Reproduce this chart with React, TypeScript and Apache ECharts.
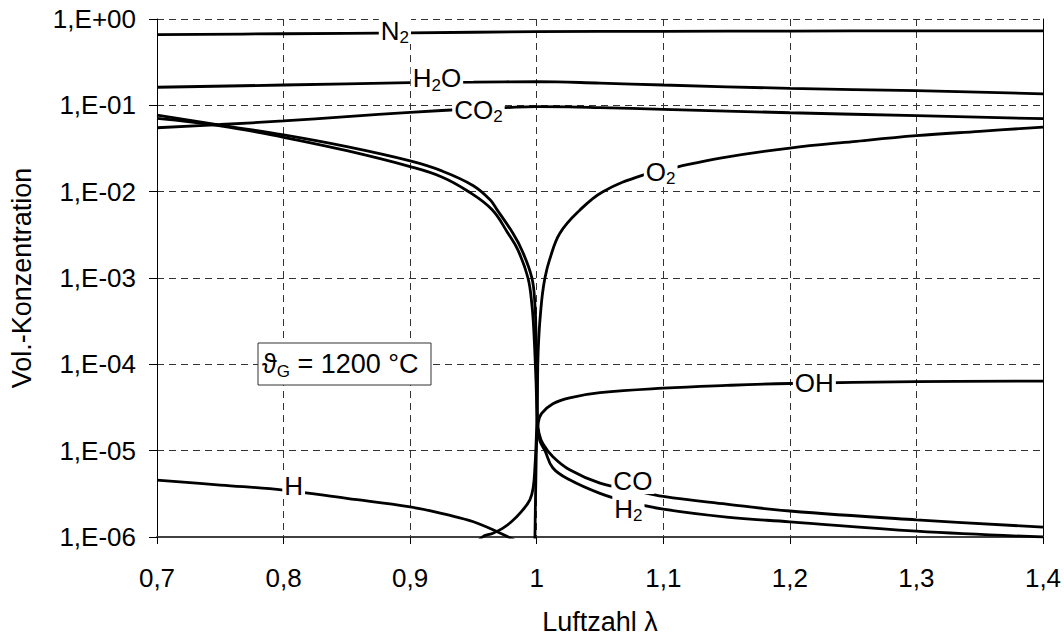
import React, { useEffect, useRef } from 'react';
import * as echarts from 'echarts';

const FONT = "'Liberation Sans', Arial, 'DejaVu Sans', sans-serif";

const xTickLabels = ['0,7', '0,8', '0,9', '1', '1,1', '1,2', '1,3', '1,4'];
const yTickLabels = ['1,E-06', '1,E-05', '1,E-04', '1,E-03', '1,E-02', '1,E-01', '1,E+00'];

const N2 = [[0.7, 0.658], [0.8, 0.675], [0.9, 0.69], [1.0, 0.713], [1.1, 0.72], [1.2, 0.725], [1.3, 0.728], [1.4, 0.73]];
const H2O = [[0.7, 0.162], [0.8, 0.172], [0.9, 0.183], [0.95, 0.186], [1.0, 0.188], [1.05, 0.181], [1.1, 0.172], [1.2, 0.157], [1.3, 0.148], [1.4, 0.136]];
const CO2 = [[0.7, 0.055], [0.75, 0.06], [0.8, 0.066], [0.85, 0.074], [0.9, 0.083], [0.95, 0.091], [0.975, 0.094], [1.0, 0.0966], [1.025, 0.096], [1.05, 0.094], [1.1, 0.09], [1.2, 0.082], [1.3, 0.076], [1.4, 0.07]];
const CO = [[0.7, 0.077], [0.75, 0.059], [0.8, 0.0454], [0.85, 0.0332], [0.9, 0.0227], [0.925, 0.0174], [0.9496, 0.0118], [0.963, 0.0081], [0.9686, 0.0062], [0.9812, 0.0033], [0.9883, 0.0021], [0.9962, 0.001], [0.9986, 0.00049], [0.9994, 0.00023], [1.0002, 0.000066], [1.0006, 0.000023], [1.0018, 0.000016], [1.0049, 0.000012], [1.0128, 0.0000085], [1.026, 0.000006], [1.05, 0.0000042], [1.076, 0.0000035], [1.1, 0.00000295], [1.15, 0.0000024], [1.2, 0.000002], [1.3, 0.00000158], [1.4, 0.0000013]];
const H2 = [[0.7, 0.0707], [0.75, 0.058], [0.8, 0.0426], [0.85, 0.0298], [0.9, 0.0195], [0.925, 0.0148], [0.9457, 0.0101], [0.9646, 0.0062], [0.9773, 0.0033], [0.9852, 0.0021], [0.9931, 0.001], [0.9962, 0.00049], [0.9978, 0.00023], [0.9994, 0.000066], [1.0007, 0.000019], [1.0025, 0.000013], [1.0065, 0.00001], [1.0128, 0.0000063], [1.026, 0.0000046], [1.05, 0.0000032], [1.07, 0.0000026], [1.1, 0.0000021], [1.15, 0.0000017], [1.2, 0.0000015], [1.3, 0.00000117], [1.4, 0.000001]];
const O2 = [[0.95, 0.00000075], [0.957, 0.000001], [0.965, 0.0000011], [0.973, 0.00000126], [0.98, 0.0000015], [0.987, 0.0000019], [0.9946, 0.0000027], [0.9973, 0.0000038], [0.9986, 0.0000065], [0.9995, 0.000012], [1.0, 0.00002], [1.0005, 0.00004], [1.001, 0.00012], [1.002, 0.00025], [1.003, 0.00039], [1.0045, 0.00065], [1.0065, 0.001], [1.01, 0.0016], [1.0183, 0.0033], [1.034, 0.0061], [1.0523, 0.01], [1.084, 0.0156], [1.1115, 0.0194], [1.145, 0.0245], [1.2, 0.032], [1.25, 0.038], [1.3, 0.0445], [1.35, 0.05], [1.4, 0.056]];
const OH = [[0.9984, 0.0000005], [0.9986, 0.000001], [0.9994, 0.0000055], [1.0, 0.000013], [1.0012, 0.000021], [1.0039, 0.000027], [1.0128, 0.000035], [1.026, 0.000041], [1.05, 0.000047], [1.1, 0.000053], [1.15, 0.000057], [1.2, 0.00006], [1.3, 0.000063], [1.4, 0.000064]];
const H = [[0.7, 0.00000457], [0.75, 0.000004], [0.8, 0.0000035], [0.85, 0.0000028], [0.9, 0.00000224], [0.93, 0.0000018], [0.95, 0.0000015], [0.97, 0.00000113], [0.98, 0.00000096], [0.99, 0.0000008]];

// label text (rich format), lambda, concentration
const curveLabels: [string, number, number][] = [
  ['N{s|2}', 0.888, 0.726],
  ['H{s|2}O', 0.9212, 0.207],
  ['CO{s|2}', 0.954, 0.0883],
  ['O{s|2}', 1.098, 0.0169],
  ['OH', 1.2194, 0.00006],
  ['CO', 1.076, 0.00000445],
  ['H{s|2}', 1.0725, 0.00000211],
  ['H', 0.808, 0.0000039],
];

const seriesData: [string, number[][]][] = [
  ['N2', N2], ['H2O', H2O], ['CO2', CO2], ['CO', CO], ['H2', H2], ['O2', O2], ['OH', OH], ['H', H],
];

export default function App() {
  const ref = useRef<HTMLDivElement>(null);
  useEffect(() => {
    if (!ref.current) return;
    const chart = echarts.init(ref.current, undefined, { renderer: 'svg' });
    const lines = seriesData.map(([name, data]) => ({
      name,
      type: 'line',
      data,
      showSymbol: false,
      symbol: 'none',
      smooth: 0.4,
      z: 2,
      lineStyle: { color: '#000', width: 2.8 },
      emphasis: { disabled: true },
    }));
    const option = {
      animation: false,
      backgroundColor: '#fff',
      grid: { left: 157, right: 21, top: 19, bottom: 100, containLabel: false, outerBoundsMode: 'none' },
      xAxis: {
        type: 'value',
        min: 0.7,
        max: 1.4,
        interval: 0.1,
        name: 'Luftzahl λ',
        nameLocation: 'middle',
        nameGap: 71,
        nameTextStyle: { fontFamily: FONT, fontSize: 27, lineHeight: 27, color: '#000' },
        axisLine: { show: true, onZero: false, lineStyle: { color: '#404040', width: 2 } },
        axisTick: { show: true, length: 7, lineStyle: { color: '#000', width: 1 } },
        axisLabel: {
          fontFamily: FONT,
          fontSize: 26,
          color: '#000',
          margin: 28,
          formatter: (v: number) => xTickLabels[Math.round((v - 0.7) / 0.1)] ?? '',
        },
        splitLine: { show: true, lineStyle: { color: '#333', type: [7, 5], width: 1 } },
      },
      yAxis: [
        {
          type: 'log',
          logBase: 10,
          min: 0.000001,
          max: 1,
          name: 'Vol.-Konzentration',
          nameLocation: 'middle',
          nameGap: 122,
          nameRotate: 90,
          nameTextStyle: { fontFamily: FONT, fontSize: 27, color: '#000' },
          axisLine: { show: true, lineStyle: { color: '#000', width: 1 } },
          axisTick: { show: true, length: 8, lineStyle: { color: '#000', width: 1 } },
          axisLabel: {
            fontFamily: FONT,
            fontSize: 26,
            color: '#000',
            margin: 21,
            formatter: (v: number) => yTickLabels[Math.round(Math.log10(v)) + 6] ?? '',
          },
          splitLine: { show: true, lineStyle: { color: '#333', type: [7, 5], width: 1 } },
          minorTick: { show: false },
        },
        {
          type: 'log',
          logBase: 10,
          min: 0.000001,
          max: 1,
          position: 'right',
          axisLine: { show: true, lineStyle: { color: '#000', width: 1 } },
          axisTick: { show: false },
          axisLabel: { show: false },
          splitLine: { show: false },
        },
      ],
      series: [
        ...lines,
        {
          name: 'labels',
          type: 'scatter',
          data: curveLabels.map(([t, x, y]) => [x, y, t]),
          symbolSize: 0.1,
          itemStyle: { color: '#fff', opacity: 1 },
          z: 10,
          silent: true,
          label: {
            show: true,
            position: [0, 0],
            align: 'center',
            verticalAlign: 'middle',
            opacity: 1,
            formatter: (p: any) => p.data[2],
            fontFamily: FONT,
            fontSize: 26,
            lineHeight: 26,
            color: '#000',
            textBorderWidth: 0,
            textBorderColor: 'transparent',
            backgroundColor: '#fff',
            padding: [0, 2],
            rich: {
              s: { fontFamily: FONT, fontSize: 17, lineHeight: 17, color: '#000', textBorderWidth: 0, padding: [14, 0, 0, 0] },
            },
          },
          emphasis: { disabled: true },
        },
      ],
      graphic: [
        {
          type: 'rect',
          z: 100,
          shape: { x: 258, y: 343, width: 173, height: 42 },
          style: { fill: '#fff', stroke: '#333', lineWidth: 1 },
        },
        {
          type: 'text',
          z: 101,
          x: 262,
          y: 364,
          style: {
            text: '{a|ϑ}{s|G}{a| = 1200 °C}',
            verticalAlign: 'middle',
            align: 'left',
            fill: '#000',
            rich: {
              a: { fontFamily: FONT, fontSize: 27, lineHeight: 27, fill: '#000' },
              s: { fontFamily: FONT, fontSize: 17, lineHeight: 17, fill: '#000', padding: [14, 0, 0, 0] },
            },
          },
        },
      ],
    };
    chart.setOption(option as any);
    return () => chart.dispose();
  }, []);
  return (
    <div
      ref={ref}
      style={{ position: 'fixed', left: 0, top: 0, width: 1064, height: 637, background: '#fff' }}
    />
  );
}
